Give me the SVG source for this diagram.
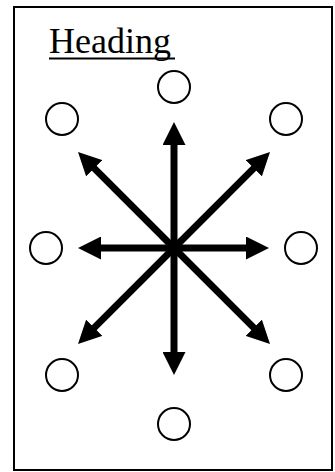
<svg xmlns="http://www.w3.org/2000/svg" width="335" height="472" viewBox="0 0 335 472">
<style>
.node{fill:#fff;stroke:#000;stroke-width:2}
.arr{stroke:#000;stroke-width:7;fill:none;marker-end:url(#ah)}
.title{font-family:"Liberation Serif","Times New Roman",serif;font-size:36px;fill:#000}
</style>
<defs>
<marker id="ah" viewBox="0 0 23 23" refX="8" refY="11.5" markerWidth="23" markerHeight="23" markerUnits="userSpaceOnUse" orient="auto">
<path d="M0,0 L23,11.5 L0,23 z" fill="#000"/>
</marker>
</defs>
<rect x="14" y="7" width="318" height="463" fill="#fff" stroke="#000" stroke-width="2"/>
<g id="heading">
<text class="title" x="49" y="53">Heading</text>
<line x1="49" y1="58.5" x2="175" y2="58.5" stroke="#000" stroke-width="2"/>
</g>
<g id="connectors">
<line class="arr" x1="174" y1="248" x2="174" y2="137"/>
<line class="arr" x1="174" y1="248" x2="174" y2="360"/>
<line class="arr" x1="174" y1="248" x2="93" y2="248"/>
<line class="arr" x1="174" y1="248" x2="254" y2="248"/>
<line class="arr" x1="174" y1="248" x2="88.6" y2="162.6"/>
<line class="arr" x1="174" y1="248" x2="259.4" y2="162.6"/>
<line class="arr" x1="174" y1="248" x2="88.6" y2="333.4"/>
<line class="arr" x1="174" y1="248" x2="259.4" y2="333.4"/>
</g>
<g id="n-top"><circle class="node" cx="174" cy="87" r="16"/></g>
<g id="n-topleft"><circle class="node" cx="62" cy="119" r="16"/></g>
<g id="n-topright"><circle class="node" cx="286" cy="119" r="16"/></g>
<g id="n-left"><circle class="node" cx="46" cy="248" r="16"/></g>
<g id="n-right"><circle class="node" cx="301" cy="248" r="16"/></g>
<g id="n-bottomleft"><circle class="node" cx="62" cy="375" r="16"/></g>
<g id="n-bottomright"><circle class="node" cx="286" cy="375" r="16"/></g>
<g id="n-bottom"><circle class="node" cx="174" cy="424" r="16"/></g>
</svg>
